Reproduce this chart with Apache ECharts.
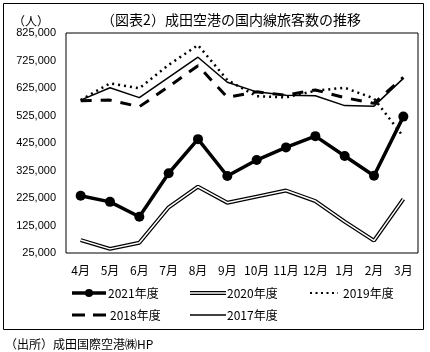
<!DOCTYPE html>
<html><head><meta charset="utf-8">
<script src="https://cdn.jsdelivr.net/npm/echarts@6/dist/echarts.min.js"></script>
<style>html,body{margin:0;padding:0;background:#fff}#c{width:430px;height:352px}</style>
</head><body><div id="c"></div>
<script>
const categories = ['4月','5月','6月','7月','8月','9月','10月','11月','12月','1月','2月','3月'];
const fy2021 = [233000,211000,157000,315000,439000,305000,363000,409000,450000,378000,306000,521000];
const fy2020 = [72000,40000,62000,191000,266000,208000,230000,252000,214000,139000,70000,221000];
const fy2019 = [581000,642000,624000,709000,781000,654000,595000,591000,615000,626000,587000,448000];
const fy2018 = [579000,581000,557000,630000,706000,591000,611000,599000,618000,590000,569000,664000];
const fy2017 = [581000,626000,590000,664000,737000,646000,611000,599000,597000,561000,559000,660000];
const yTicks = {min:25000, max:825000, interval:100000};
const legendNames = ['2021年度','2020年度','2019年度','2018年度','2017年度'];

const font = '"Noto Sans CJK JP","Noto Sans",sans-serif';
const txt = (x,y,t) => ({type:'text',x:x,y:y,style:{text:t,fill:'#000',font:'12px '+font,textVerticalAlign:'middle'},silent:true});
const ln = (x1,y1,x2,y2,w,c,dash) => ({type:'line',shape:{x1,y1,x2,y2},style:{stroke:c||'#000',lineWidth:w,lineDash:dash||null},silent:true});

const chart = echarts.init(document.getElementById('c'));
chart.setOption({
  animation:false,
  backgroundColor:'#fff',
  textStyle:{fontFamily:font,color:'#000'},
  title:[
    {text:'（図表2）成田空港の国内線旅客数の推移',left:226,top:8,textAlign:'center',textStyle:{fontSize:14,fontWeight:'normal',color:'#000',fontFamily:font}},
    {text:'（人）',left:8,top:10,textStyle:{fontSize:12,fontWeight:'normal',color:'#000',fontFamily:font}},
    {text:'（出所）成田国際空港㈱HP',left:0,top:333,textStyle:{fontSize:12,fontWeight:'normal',color:'#000',fontFamily:font}}
  ],
  graphic:[
    {type:'rect',shape:{x:3.5,y:3.5,width:420,height:326},style:{fill:'none',stroke:'#000',lineWidth:1},silent:true},
    ln(72,293,106,293,3.5),
    {type:'circle',shape:{cx:89,cy:293,r:4},style:{fill:'#000'},silent:true},
    txt(108,293,legendNames[0]),
    ln(190,293,226,293,4),
    ln(190,293,226,293,1.5,'#fff'),
    txt(227,293,legendNames[1]),
    ln(310,293,338,293,2,'#000',[2,3.5]),
    txt(343,293,legendNames[2]),
    ln(72,315,106,315,3,'#000',[13,8]),
    txt(110,315,legendNames[3]),
    ln(190,315,226,315,1.5),
    txt(227,315,legendNames[4])
  ],
  grid:{left:66,right:12,top:33,bottom:99,show:true,borderColor:'#000',borderWidth:1,backgroundColor:'transparent'},
  xAxis:{type:'category',data:categories,boundaryGap:true,axisLine:{show:false},axisTick:{show:false},
    axisLabel:{color:'#000',fontSize:12,margin:11,interval:0,fontFamily:font}},
  yAxis:{type:'value',min:yTicks.min,max:yTicks.max,interval:yTicks.interval,splitLine:{show:false},
    axisLine:{show:false},axisTick:{show:false},
    axisLabel:{color:'#000',fontSize:11,margin:10,fontFamily:'"Liberation Sans",sans-serif',formatter:v=>v.toLocaleString('en-US')}},
  series:[
    {name:legendNames[4],type:'line',data:fy2017,symbol:'none',lineStyle:{color:'#000',width:1.5}},
    {name:legendNames[3],type:'line',data:fy2018,symbol:'none',lineStyle:{color:'#000',width:3,type:[11,9]}},
    {name:legendNames[2],type:'line',data:fy2019,symbol:'none',lineStyle:{color:'#000',width:2.5,type:[2,4]}},
    {name:legendNames[1],type:'line',data:fy2020,symbol:'none',lineStyle:{color:'#000',width:4}},
    {name:legendNames[1]+'_inner',type:'line',data:fy2020,symbol:'none',lineStyle:{color:'#fff',width:1.5}},
    {name:legendNames[0],type:'line',data:fy2021,symbol:'circle',symbolSize:10,lineStyle:{color:'#000',width:3.5},itemStyle:{color:'#000'}}
  ]
});
</script></body></html>
